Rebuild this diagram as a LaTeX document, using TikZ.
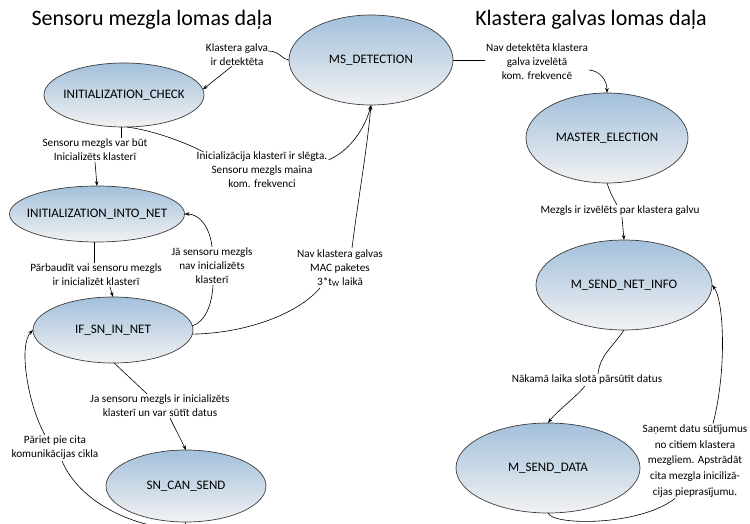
\documentclass[tikz,border=0pt]{standalone}
\usepackage{fontspec}
\setmainfont{Carlito}
\usetikzlibrary{shapes.geometric,arrows.meta,calc}
\definecolor{stateTop}{RGB}{163,192,219}
\definecolor{stateBot}{RGB}{242,242,243}
\definecolor{stateLine}{RGB}{60,60,60}
\begin{document}
\begin{tikzpicture}[x=1pt,y=-1pt,
  state/.style={ellipse, draw=stateLine, line width=0.7pt, top color=stateTop,
    bottom color=stateBot, inner sep=0pt, outer sep=0pt, font=\fontsize{13}{15}\selectfont},
  lab/.style={align=center, inner sep=1pt, font=\fontsize{11.2}{14}\selectfont},
  heading/.style={inner sep=0pt, font=\fontsize{22}{26}\selectfont},
  conn/.style={draw=black, line width=0.6pt},
  arr/.style={conn, -{Stealth[length=5pt,width=3.6pt]}}
]
\useasboundingbox (0,0) rectangle (750,524);

% headings
\node[heading] (t1) at (152,20) {Sensoru mezgla lomas daļa};
\node[heading] (t2) at (591,20) {Klastera galvas lomas daļa};

% states of the sensor node
\node[state, minimum width=164, minimum height=90] (ms)   at (371,60)  {\makebox[0pt]{MS\_DETECTION}};
\node[state, minimum width=160, minimum height=64] (ic)   at (124,95)  {\makebox[0pt]{INITIALIZATION\_CHECK}};
\node[state, minimum width=175, minimum height=56] (iin)  at (97,214)  {\makebox[0pt]{INITIALIZATION\_INTO\_NET}};
\node[state, minimum width=160, minimum height=66] (ifsn) at (113,330) {\makebox[0pt]{IF\_SN\_IN\_NET}};
\node[state, minimum width=160, minimum height=72] (sn)   at (186,486) {\makebox[0pt]{SN\_CAN\_SEND}};

% states of the cluster head
\node[state, minimum width=162, minimum height=90] (me)  at (607,138) {\makebox[0pt]{MASTER\_ELECTION}};
\node[state, minimum width=176, minimum height=90] (nsi) at (624,285) {\makebox[0pt]{M\_SEND\_NET\_INFO}};
\node[state, minimum width=184, minimum height=90] (msd) at (548,468) {\makebox[0pt]{M\_SEND\_DATA}};

% transition labels
\node[lab] (L1)  at (237,55)  {Klastera galva\\ir detektēta};
\node[lab] (L2)  at (262,170) {Inicializācija klasterī ir slēgta.\\Sensoru mezgls maina\\kom. frekvenci};
\node[lab] (L3)  at (95,150)  {Sensoru mezgls var būt\\Inicializēts klasterī};
\node[lab] (L4)  at (96,275)  {Pārbaudīt vai sensoru mezgls\\ir inicializēt klasterī};
\node[lab] (L5)  at (212,266) {Jā sensoru mezgls\\nav inicializēts\\klasterī};
\node[lab] (L6)  at (340,268) {Nav klastera galvas\\MAC paketes\\3*t\textsubscript{W} laikā};
\node[lab] (L7)  at (160,406) {Ja sensoru mezgls ir inicializēts\\klasterī un var sūtīt datus};
\node[lab] (L8)  at (55,448)  {Pāriet pie cita\\komunikācijas cikla};
\node[lab] (L9)  at (537,62)  {Nav detektēta klastera\\galva izvelētā\\kom. frekvencē};
\node[lab] (L10) at (620,211) {Mezgls ir izvēlēts par klastera galvu};
\node[lab] (L11) at (587,380) {Nākamā laika slotā pārsūtīt datus};
\node[lab, font=\fontsize{11.2}{15.7}\selectfont] (L12) at (695,461)
  {Saņemt datu sūtījumus\\no citiem klastera\\mezgliem. Apstrādāt\\cita mezgla inicilizā-\\cijas pieprasījumu.};

% MS_DETECTION -> INITIALIZATION_CHECK
\draw[conn] (ms.west) .. controls (282,60) and (280,51) .. ($(L1.east)+(-1,-4)$);
\draw[arr] ($(L1.south)+(-5,-1)$) -- (ic.4);

% INITIALIZATION_CHECK -> MS_DETECTION
\draw[conn] (ic.-85) .. controls (150,130) and (180,140) .. ($(L2.north west)+(8,1)$);
\draw[arr] ($(L2.north east)+(0,9)$) .. controls (352,150) and (366,125) .. (ms.south);

% INITIALIZATION_CHECK -> INITIALIZATION_INTO_NET
\draw[conn] (ic.-95) -- (L3.north -| ic.-95);
\draw[arr] (L3.south) -- (iin.north);

% INITIALIZATION_INTO_NET -> IF_SN_IN_NET
\draw[conn] (iin.-95) -- (L4.north -| iin.-95);
\draw[arr] ($(L4.south)+(14,0)$) -- (ifsn.north);

% IF_SN_IN_NET -> INITIALIZATION_INTO_NET
\draw[conn] (ifsn.3) .. controls (205,322) and (212,305) .. ($(L5.south)+(1,0)$);
\draw[arr] (L5.north) .. controls (210,228) and (200,214) .. (iin.east);

% IF_SN_IN_NET -> MS_DETECTION
\draw[conn] (ifsn.-3) .. controls (250,333) and (300,312) .. ($(L6.south)+(-20,0)$);
\draw[arr] ($(L6.north)+(12,0)$) .. controls (358,200) and (367,150) .. (ms.south);

% IF_SN_IN_NET -> SN_CAN_SEND
\draw[conn] (ifsn.-88) -- ($(L7.north)+(-13,0)$);
\draw[arr] ($(L7.south)+(10,0)$) -- (sn.north);

% SN_CAN_SEND -> IF_SN_IN_NET
\draw[conn] (sn.south) .. controls (186,538) and (88,522) .. ($(L8.south)+(7,0)$);
\draw[arr] ($(L8.north)+(-10,0)$) .. controls (28,405) and (18,345) .. (ifsn.west);

% MS_DETECTION -> MASTER_ELECTION
\draw[conn] (ms.east) -- (L9.west |- ms.east);
\draw[arr] ($(L9.east)+(0,8)$) .. controls (600,71) and (607,80) .. (me.north);

% MASTER_ELECTION -> M_SEND_NET_INFO
\draw[conn] (me.south) .. controls (610,192) .. ($(L10.north)+(-3,0)$);
\draw[arr] ($(L10.south)+(2,0)$) -- (nsi.north);

% M_SEND_NET_INFO -> M_SEND_DATA
\draw[conn] (nsi.south) .. controls (612,348) and (600,355) .. ($(L11.north)+(11,0)$);
\draw[arr] ($(L11.south)+(-2,0)$) .. controls (575,398) and (556,412) .. (msd.north);

% M_SEND_DATA -> M_SEND_NET_INFO
\draw[conn] (msd.south) .. controls (553,526) and (640,526) .. ($(L12.south)+(-20,0)$);
\draw[arr] ($(L12.north)+(18,0)$) .. controls (727,370) and (724,300) .. (nsi.east);
\end{tikzpicture}
\end{document}
